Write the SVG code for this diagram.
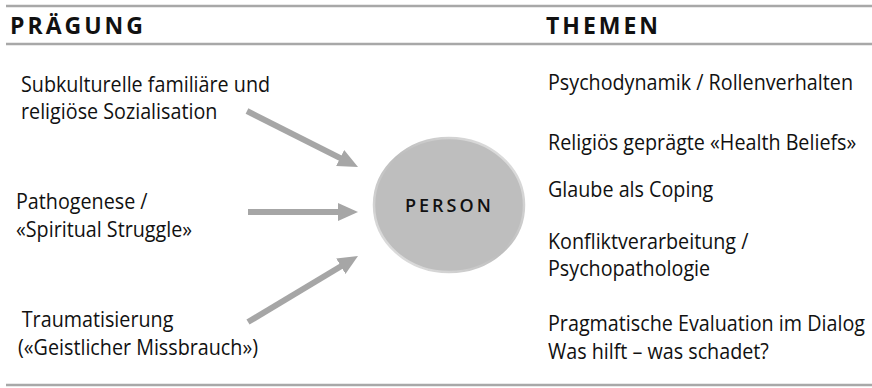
<svg xmlns="http://www.w3.org/2000/svg" width="872" height="388" viewBox="0 0 872 388">
  <defs>
    <style>
      .rule { stroke: #a8a8a8; stroke-width: 2.5; fill: none; }
      .head { font-family: "Open Sans", "Noto Sans", sans-serif; font-weight: 700; font-size: 23px; letter-spacing: 3px; fill: #111; }
      .txt { font-family: "Open Sans", "Noto Sans", sans-serif; font-size: 21px; fill: #111; }
      .arrow { stroke: #a6a6a6; stroke-width: 6; fill: none; marker-end: url(#ah); }
      .person { font-family: "Open Sans", "Noto Sans", sans-serif; font-weight: 600; font-size: 18px; letter-spacing: 3px; fill: #111; }
    </style>
    <marker id="ah" markerUnits="userSpaceOnUse" markerWidth="20" markerHeight="20" refX="8" refY="9" orient="auto" viewBox="0 0 20 18">
      <path d="M0,0 L20,9 L0,18 z" fill="#a6a6a6"/>
    </marker>
    <linearGradient id="rim" x1="0" y1="1" x2="1" y2="0">
      <stop offset="0" stop-color="#e6e6e6"/>
      <stop offset="0.5" stop-color="#bdbdbd"/>
      <stop offset="1" stop-color="#e6e6e6"/>
    </linearGradient>
  </defs>
  <rect width="872" height="388" fill="#ffffff"/>

  <g id="rules">
    <line class="rule" x1="6" y1="6" x2="872" y2="6"/>
    <line class="rule" x1="6" y1="44" x2="872" y2="44"/>
    <line class="rule" x1="6" y1="385" x2="872" y2="385"/>
  </g>

  <g id="header-praegung"><text class="head" x="10" y="34">PRÄGUNG</text></g>
  <g id="header-themen"><text class="head" x="546" y="34">THEMEN</text></g>

  <g id="connectors">
    <line class="arrow" x1="247" y1="111" x2="347.3" y2="161.6"/>
    <line class="arrow" x1="248" y1="212" x2="346" y2="212"/>
    <line class="arrow" x1="248" y1="322" x2="347.7" y2="262.2"/>
  </g>

  <g id="person">
    <ellipse cx="449" cy="205" rx="75" ry="67" fill="#bebebe" stroke="url(#rim)" stroke-width="2.5"/>
    <text class="person" x="405" y="212">PERSON</text>
  </g>

  <g id="praegung-1" transform="translate(21 0) scale(0.94 1)">
    <text class="txt" x="0" y="92">Subkulturelle familiäre und</text>
    <text class="txt" x="0" y="119">religiöse Sozialisation</text>
  </g>
  <g id="praegung-2" transform="translate(16 0) scale(0.94 1)">
    <text class="txt" x="0" y="209">Pathogenese /</text>
    <text class="txt" x="0" y="237">«Spiritual Struggle»</text>
  </g>
  <g id="praegung-3" transform="translate(18 0) scale(0.94 1)">
    <text class="txt" x="4" y="327">Traumatisierung</text>
    <text class="txt" x="0" y="355">(«Geistlicher Missbrauch»)</text>
  </g>

  <g id="thema-1" transform="translate(548 0) scale(0.94 1)"><text class="txt" x="0" y="90">Psychodynamik / Rollenverhalten</text></g>
  <g id="thema-2" transform="translate(548 0) scale(0.94 1)"><text class="txt" x="0" y="150">Religiös geprägte «Health Beliefs»</text></g>
  <g id="thema-3" transform="translate(548 0) scale(0.94 1)"><text class="txt" x="0" y="197">Glaube als Coping</text></g>
  <g id="thema-4" transform="translate(548 0) scale(0.94 1)">
    <text class="txt" x="0" y="249">Konfliktverarbeitung /</text>
    <text class="txt" x="0" y="276">Psychopathologie</text>
  </g>
  <g id="thema-5" transform="translate(548 0) scale(0.94 1)">
    <text class="txt" x="0" y="331">Pragmatische Evaluation im Dialog</text>
    <text class="txt" x="0" y="359">Was hilft – was schadet?</text>
  </g>
</svg>
